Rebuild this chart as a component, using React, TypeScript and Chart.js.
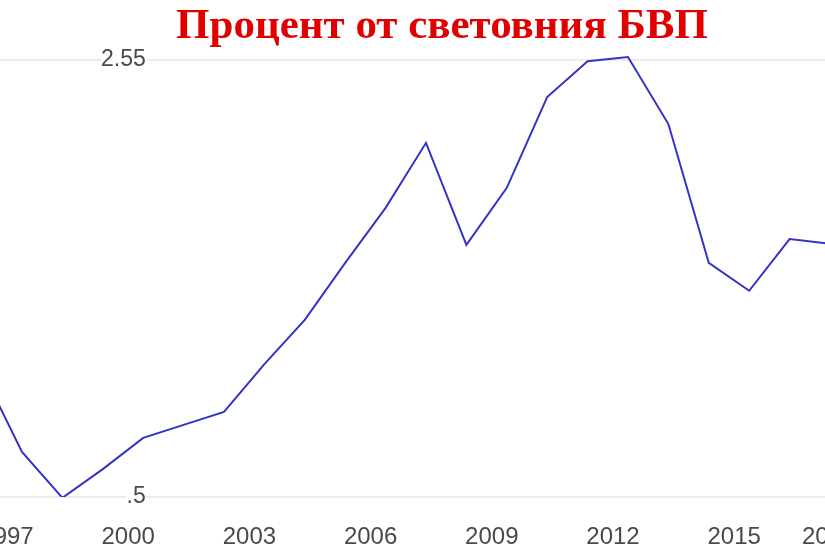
import { useEffect, useRef } from "react";
import { Chart, registerables } from "chart.js";

Chart.register(...registerables);

const TITLE = "Процент от световния БВП";
const YEARS = [1996, 1997, 1998, 1999, 2000, 2001, 2002, 2003, 2004, 2005, 2006, 2007, 2008, 2009, 2010, 2011, 2012, 2013, 2014, 2015, 2016, 2017];
const VALUES = [1.805, 1.608, 1.498, 1.567, 1.642, 1.673, 1.704, 1.819, 1.925, 2.062, 2.194, 2.35, 2.105, 2.242, 2.46, 2.546, 2.556, 2.395, 2.062, 1.995, 2.119, 2.108];
const X_TICKS = [1994, 1997, 2000, 2003, 2006, 2009, 2012, 2015, 2018];
const Y_TICKS = [1.5, 2.55];
const Y_TICK_LABELS = [".5", "2.55"];

const SANS = "Arial, 'Liberation Sans', sans-serif";
const SERIF = "'Times New Roman', 'Liberation Serif', serif";

const zeroPad = (s: any) => {
  s.paddingLeft = 0;
  s.paddingRight = 0;
  s.paddingTop = 0;
  s.paddingBottom = 0;
};

export default function App() {
  const ref = useRef<HTMLCanvasElement>(null);

  useEffect(() => {
    if (!ref.current) return;
    const chart = new Chart(ref.current, {
      type: "line",
      data: {
        datasets: [
          {
            data: YEARS.map((yr, i) => ({ x: yr, y: VALUES[i] })),
            borderColor: "#3434c4",
            borderWidth: 2,
            pointRadius: 0,
            tension: 0,
            fill: false,
          },
        ],
      },
      options: {
        animation: false,
        responsive: false,
        layout: { autoPadding: false, padding: 0 },
        plugins: {
          legend: { display: false },
          tooltip: { enabled: false },
          title: {
            display: true,
            text: TITLE,
            color: "#e00000",
            font: { family: SERIF, size: 43, weight: "bold", lineHeight: 1.2 },
            padding: { top: 0.7, bottom: 0 },
          },
        },
        scales: {
          x: {
            type: "linear",
            min: 1996.4554,
            max: 2018.337,
            grid: { display: false, drawTicks: false },
            border: { display: false },
            afterBuildTicks: (s: any) => {
              s.ticks = X_TICKS.map((v) => ({ value: v }));
            },
            afterFit: (s: any) => {
              s.height = 58;
              zeroPad(s);
            },
            ticks: {
              autoSkip: false,
              maxRotation: 0,
              align: "inner",
              labelOffset: -15,
              padding: 25.6,
              color: "#4a4a4a",
              font: { family: SANS, size: 24 },
              callback: (v: any) => String(v),
            },
          },
          y: {
            type: "linear",
            min: 1.5,
            max: 2.5673,
            grid: { color: "#ececec", lineWidth: 2, drawTicks: false },
            border: { display: false },
            afterBuildTicks: (s: any) => {
              s.ticks = Y_TICKS.map((v) => ({ value: v }));
            },
            afterFit: (s: any) => {
              s.width = 0;
              zeroPad(s);
            },
            ticks: {
              mirror: true,
              crossAlign: "far",
              padding: 101,
              color: "#4a4a4a",
              font: { family: SANS, size: 23 },
              callback: (_v: any, i: number) => Y_TICK_LABELS[i],
              showLabelBackdrop: true,
              backdropColor: "#ffffff",
              backdropPadding: (ctx: any) =>
                ctx.index === 0
                  ? { left: 10, right: 1, top: 0, bottom: 0 }
                  : { left: 14, right: 18, top: 0, bottom: 0 },
            },
          },
        },
      },
    } as any);
    return () => chart.destroy();
  }, []);

  return (
    <div
      style={{
        position: "fixed",
        left: 0,
        top: 0,
        width: 825,
        height: 555,
        overflow: "hidden",
        background: "#ffffff",
      }}
    >
      <canvas ref={ref} width={884} height={555} style={{ width: 884, height: 555, display: "block" }} />
    </div>
  );
}
